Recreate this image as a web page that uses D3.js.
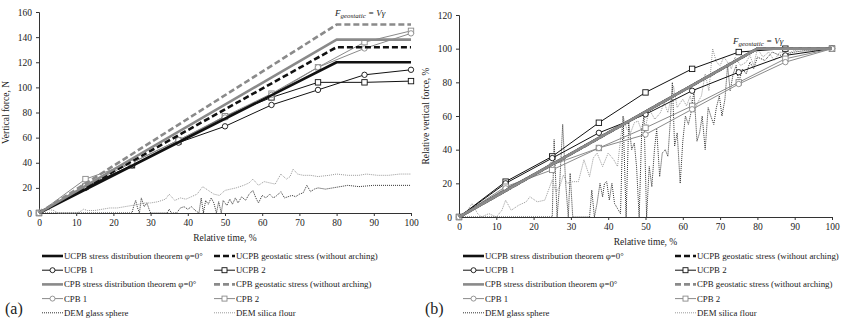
<!DOCTYPE html>
<html>
<head>
<meta charset="utf-8">
<script src="https://cdn.jsdelivr.net/npm/d3@7"></script>
<style>
 body { margin:0; background:#fff; }
 svg text { font-family:"Liberation Serif","DejaVu Serif",serif; fill:#222; }
</style>
</head>
<body>
<script>
// relative time points where the tests were sampled
var testTimes = [0, 12.5, 25, 37.5, 50, 62.5, 75, 87.5, 100];

// panel (a), vertical force, N
var ucpbTheoremA = [[0,0],[80,120],[100,120]];
var ucpbGeoA = [[0,0],[80,132],[100,132]];
var cpbTheoremA = [[0,0],[80,138],[100,138]];
var cpbGeoA = [[0,0],[80,150],[100,150]];
var ucpb1A = [0, 20, 38, 56, 69, 86, 98, 110, 114];
var ucpb2A = [0, 21, 38, 57, 77, 92, 104, 104, 105];
var cpb1A = [0, 22, 40, 58, 76, 94, 116, 131, 143];
var cpb2A = [0, 27, 40, 58, 77, 95, 116, 136, 145];
var glassA = [[0,0],[25,0],[25.5,6],[26,10],[26.5,4],[27,0],[27.5,12],[28.3,5],[29,8],[29.6,3],[30,0],[34.5,0],[35,3],[35.6,0],[37,0],[38,4],[39,5],[40,3],[41,5],[42,2],[43,0],[43.6,12],[44.2,0],[44.8,10],[45.5,7],[46.3,12],[47,8],[47.7,0],[48.3,9],[49,0],[49.5,10],[50.5,6],[51.3,11],[52,7],[52.8,12],[53.5,8],[54.5,13],[55.5,10],[56.5,15],[57.5,18],[58.3,12],[59,8],[60,14],[61,12],[62,15],[63,12],[64,14],[65,17],[66,12],[67,13],[68,14],[69,13],[70,15],[71,16],[72,22],[73,17],[74,19],[75,20],[77,19],[79,20],[81,21],[83,22],[86,21],[90,22],[95,22],[100,22]];
var silicaA = [[0,3],[2,3],[4,2],[5,0],[10,0],[11,1],[12,3],[13,2],[15,2],[17,3],[19,4],[21,4],[23,5],[25,6],[27,7],[28.5,8],[30,8],[32,9],[33,10],[34,11],[35,15],[36.5,10],[38,12],[39.5,11],[41,13],[42.5,15],[44,21],[45.5,18],[47,15],[48.5,14],[50,18],[51.5,19],[53,20],[55,22],[56.5,24],[57.5,27],[59,22],[60.5,25],[62,24],[63.5,23],[65,31],[66.5,27],[67.5,29],[68.3,35],[69.5,31],[71,30],[73,30],[75,29],[78,30],[80,31],[83,30],[86,30],[88,31],[91,30],[94,30],[97,31],[100,31]];

// panel (b), relative vertical force, %
var theoremB = [[0,0],[80,100],[100,100]];
var ucpb1B = [0, 20, 35, 50, 61, 75, 86, 96, 100];
var ucpb2B = [0, 21, 36, 56, 74, 88, 98, 100, 100];
var cpb1B = [0, 17, 31, 41, 49, 64, 79, 92, 100];
var cpb2B = [0, 18, 28, 41, 53, 66, 80, 94, 100];
var glassB = [[0,0],[25,0],[25.5,46],[26.3,0],[27,20],[27.8,55],[28.6,20],[29.3,0],[29.8,26],[30.5,0],[35,0],[35.6,16],[36.3,0],[37,8],[37.8,20],[38.5,12],[39,20],[39.6,21],[40.3,10],[41,20],[41.7,8],[42.5,5],[43.3,2],[44,60],[44.8,0],[45.5,56],[46.3,40],[47,44],[47.6,30],[48.3,0],[49,52],[49.6,60],[50.3,0],[51,30],[51.7,18],[52.4,40],[53,52],[53.8,24],[54.5,38],[55.3,40],[56,36],[56.6,55],[57.2,80],[57.8,42],[58.5,50],[59.3,20],[60,45],[60.7,60],[61.5,55],[62.2,62],[63,75],[63.8,45],[64.5,50],[65.2,60],[66,40],[66.8,65],[67.5,60],[68.3,55],[69,65],[69.8,72],[70.5,60],[71.3,70],[72,90],[72.7,75],[73.5,85],[74.3,90],[75,80],[76,88],[77,85],[78,92],[79,88],[80,95],[82,93],[84,98],[86,96],[88,97],[90,98],[93,99],[96,99],[100,100]];
var silicaB = [[0,0],[2,3],[3.5,8],[5,2],[6,0],[8,2],[10,0],[11.5,4],[12.5,10],[14,4],[16,7],[18,9],[19,12],[21,9],[23,10],[25,22],[26,15],[27,18],[28,25],[29,20],[30.5,21],[32,21],[33.5,34],[35,24],[36,35],[37,38],[38.5,30],[40,38],[41.5,34],[42.5,30],[44,60],[45,52],[46,50],[47,56],[48,57],[49.5,48],[51,64],[52.5,58],[54,62],[55,68],[56,62],[57.5,78],[58.5,65],[60,70],[61,66],[62,72],[63,62],[64,68],[65,72],[66,85],[67,75],[68,100],[69,92],[70,90],[71,95],[72,92],[73,88],[74,95],[75.5,90],[77,92],[78,96],[79,90],[80,100],[81.5,95],[83,98],[84.5,93],[86,98],[88,97],[90,99],[92,98],[95,99],[100,100]];

var legendLabels = [
 "UCPB stress distribution theorem \u03c6=0\u00b0", "UCPB geostatic stress (without arching)",
 "UCPB 1", "UCPB 2",
 "CPB stress distribution theorem \u03c6=0\u00b0", "CPB geostatic stress (without arching)",
 "CPB 1", "CPB 2",
 "DEM glass sphere", "DEM silica flour"
];

var yTicksA = [0, 20, 40, 60, 80, 100, 120, 140, 160];
var yTicksB = [0, 20, 40, 60, 80, 100, 120];
var xTicks = [0, 10, 20, 30, 40, 50, 60, 70, 80, 90, 100];

var BLACK = "#111", GREY = "#8a8a8a";

// line styles, same order as legendLabels
var styles = [
 {c:BLACK, w:2.6, dash:null, m:null},
 {c:BLACK, w:2.6, dash:"6,3", m:null},
 {c:BLACK, w:1, dash:null, m:"circle"},
 {c:BLACK, w:1, dash:null, m:"square"},
 {c:GREY, w:2.6, dash:null, m:null},
 {c:GREY, w:2.6, dash:"6,3", m:null},
 {c:GREY, w:1, dash:null, m:"circle"},
 {c:GREY, w:1, dash:null, m:"square"},
 {c:"#333", w:1, dash:"1,1", m:null},
 {c:"#9a9a9a", w:1, dash:"1,1", m:null}
];

var svg = d3.select("body").append("svg").attr("width", 844).attr("height", 323);

function pairs(vals) { return vals.map(function(v, i) { return [testTimes[i], v]; }); }

function drawPanel(p) {
 var x = d3.scaleLinear().domain([0, 100]).range([p.left, p.right]);
 var y = d3.scaleLinear().domain([0, p.ymax]).range([p.bottom, p.top]);
 var g = svg.append("g");

 // axes
 g.append("g").attr("transform", "translate(0," + p.bottom + ")")
  .call(d3.axisBottom(x).tickValues(xTicks).tickSize(3).tickPadding(3))
  .call(function(a) { a.selectAll("text").attr("font-size", 9.5).attr("fill", "#222").style("font-family", "Liberation Serif"); a.selectAll("line,path").attr("stroke", "#333"); });
 g.append("g").attr("transform", "translate(" + p.left + ",0)")
  .call(d3.axisLeft(y).tickValues(p.yticks).tickSize(3).tickPadding(4))
  .call(function(a) { a.selectAll("text").attr("font-size", 9.5).attr("fill", "#222").style("font-family", "Liberation Serif"); a.selectAll("line,path").attr("stroke", "#333"); });

 g.append("text").attr("x", (p.left + p.right) / 2).attr("y", p.bottom + 28)
  .attr("text-anchor", "middle").attr("font-size", 9.5).text("Relative time, %");
 g.append("text").attr("transform", "translate(" + p.ylabX + "," + ((p.top + p.bottom) / 2) + ") rotate(-90)")
  .attr("text-anchor", "middle").attr("font-size", 9.5).text(p.ylabel);

 var line = d3.line().x(function(d) { return x(d[0]); }).y(function(d) { return y(d[1]); });

 // draw order: DEM first, then thin tests, then theory lines on top
 var order = [8, 9, 3, 2, 7, 6, 0, 1, 4, 5];
 order.forEach(function(k) {
  var s = styles[k], pts = p.series[k];
  g.append("path").datum(pts).attr("d", line).attr("fill", "none")
   .attr("stroke", s.c).attr("stroke-width", s.w).attr("stroke-dasharray", s.dash)
   .attr("stroke-linejoin", "round");
  if (s.m == "circle") {
   g.selectAll(null).data(pts).enter().append("circle")
    .attr("cx", function(d) { return x(d[0]); }).attr("cy", function(d) { return y(d[1]); })
    .attr("r", 2.7).attr("fill", "#fff").attr("stroke", s.c).attr("stroke-width", 0.9);
  } else if (s.m == "square") {
   g.selectAll(null).data(pts).enter().append("rect")
    .attr("x", function(d) { return x(d[0]) - 2.7; }).attr("y", function(d) { return y(d[1]) - 2.7; })
    .attr("width", 5.4).attr("height", 5.4).attr("fill", "#fff").attr("stroke", s.c).attr("stroke-width", 0.9);
  }
 });

 // F_geostatic label
 var f = g.append("text").attr("x", p.fx).attr("y", p.fy).attr("font-size", 9).attr("font-style", "italic");
 f.append("tspan").text("F");
 f.append("tspan").attr("font-size", 7).attr("dy", 2).text("geostatic");
 f.append("tspan").attr("dy", -2).text(" = V\u03b3");

 // legend
 var lg = g.append("g");
 legendLabels.forEach(function(lab, i) {
  var s = styles[i];
  var col = i % 2, row = Math.floor(i / 2);
  var lx = p.legX[col], ly = p.legY + row * p.legDy;
  lg.append("line").attr("x1", lx).attr("x2", lx + 21).attr("y1", ly).attr("y2", ly)
   .attr("stroke", s.c).attr("stroke-width", s.w).attr("stroke-dasharray", s.dash);
  if (s.m == "circle") {
   lg.append("circle").attr("cx", lx + 10.5).attr("cy", ly).attr("r", 2.5)
    .attr("fill", "#fff").attr("stroke", s.c).attr("stroke-width", 0.9);
  } else if (s.m == "square") {
   lg.append("rect").attr("x", lx + 8).attr("y", ly - 2.5).attr("width", 5).attr("height", 5)
    .attr("fill", "#fff").attr("stroke", s.c).attr("stroke-width", 0.9);
  }
  lg.append("text").attr("x", lx + 22).attr("y", ly + 3).attr("font-size", 8.8).text(lab);
 });

 g.append("text").attr("x", p.tagX).attr("y", p.tagY).attr("font-size", 16).text(p.tag);
}

drawPanel({
 left:39, right:411, top:12, bottom:213, ymax:160, yticks:yTicksA,
 ylabel:"Vertical force, N", ylabX:9,
 series:[ucpbTheoremA, ucpbGeoA, pairs(ucpb1A), pairs(ucpb2A), cpbTheoremA, cpbGeoA, pairs(cpb1A), pairs(cpb2A), glassA, silicaA],
 fx:335, fy:16,
 legX:[42, 214], legY:256, legDy:14.2,
 tag:"(a)", tagX:5, tagY:314
});

drawPanel({
 left:459, right:832, top:15, bottom:217, ymax:120, yticks:yTicksB,
 ylabel:"Relative vertical force, %", ylabX:429,
 series:[theoremB, theoremB, pairs(ucpb1B), pairs(ucpb2B), theoremB, theoremB, pairs(cpb1B), pairs(cpb2B), glassB, silicaB],
 fx:733, fy:44,
 legX:[463, 675], legY:256, legDy:14.2,
 tag:"(b)", tagX:425, tagY:314
});
</script>
</body>
</html>
